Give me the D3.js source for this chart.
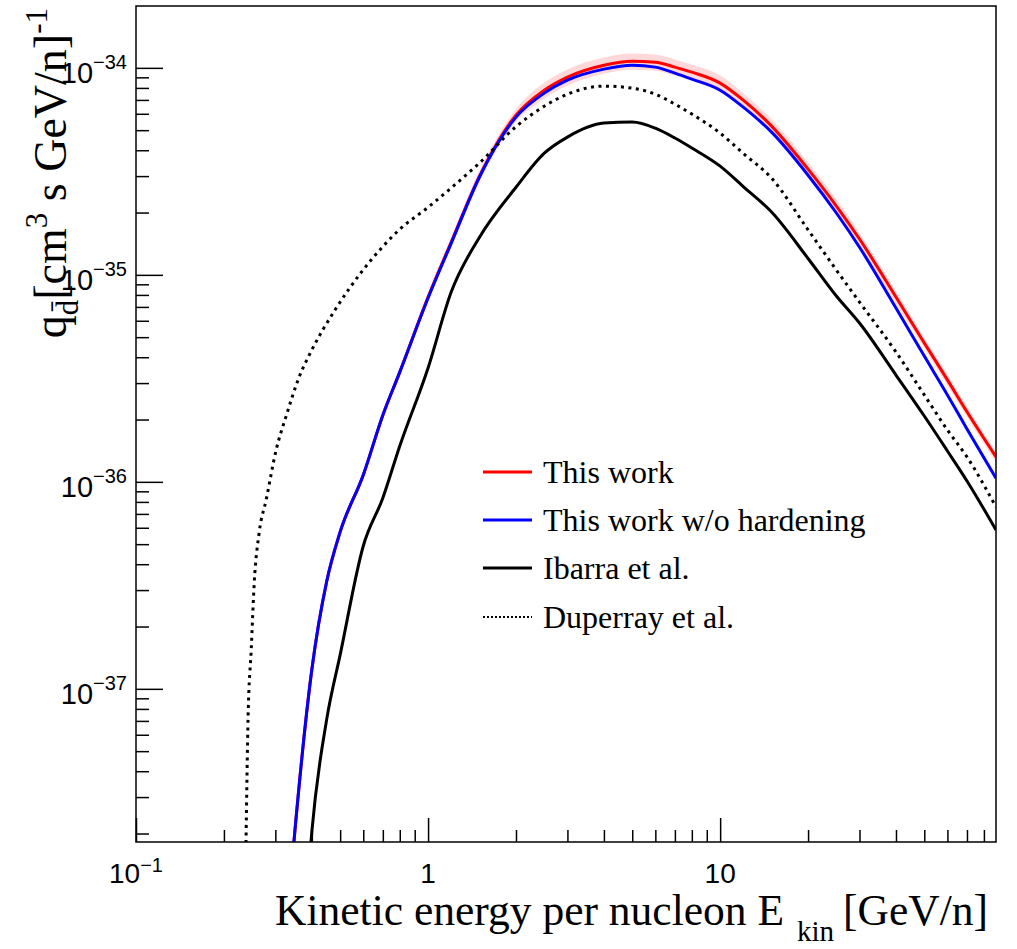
<!DOCTYPE html>
<html>
<head>
<meta charset="utf-8">
<style>
  body { margin: 0; background: #fff; }
  svg { display: block; }
  .tick-label { font-family: 'Liberation Sans', Arial, sans-serif; fill: #000; }
  .title { font-family: 'Liberation Serif', 'Times New Roman', serif; fill: #000; }
</style>
</head>
<body>
<svg width="1017" height="949"></svg>
<script src="https://d3js.org/d3.v7.min.js"></script>
<script>
//------------------------------ DATA ------------------------------//
// kinetic energy per nucleon [GeV/n] for the two "this work" curves
let energyMain = [0.347, 0.35, 0.4, 0.45, 0.5, 0.6, 0.7, 0.8, 1, 1.2, 1.5, 2, 2.5, 3, 4, 5, 6, 7, 8,
                  10, 12, 15, 20, 25, 30, 40, 50, 60, 70, 88];
let thisWork = [1.8e-38, 2.06e-38, 1.24e-37, 3.32e-37, 5.73e-37, 1.08e-36, 2.10e-36, 3.39e-36, 7.81e-36,
                1.44e-35, 3.00e-35, 5.91e-35, 7.80e-35, 9.02e-35, 1.03e-34, 1.077e-34, 1.065e-34, 1.008e-34,
                9.53e-35, 8.44e-35, 6.98e-35, 5.23e-35, 3.24e-35, 2.15e-35, 1.49e-35, 7.81e-36, 4.69e-36,
                3.11e-36, 2.18e-36, 1.32e-36];
// relative half width of the uncertainty band around "This work"
let thisWorkErr = [0.04, 0.04, 0.04, 0.04, 0.04, 0.04, 0.04, 0.04, 0.05, 0.05, 0.06, 0.07, 0.09, 0.09,
                   0.09, 0.09, 0.09, 0.09, 0.09, 0.09, 0.08, 0.08, 0.08, 0.08, 0.07, 0.07, 0.06, 0.06,
                   0.06, 0.06];
let noHardening = [1.8e-38, 2.06e-38, 1.24e-37, 3.32e-37, 5.73e-37, 1.08e-36, 2.10e-36, 3.39e-36, 7.73e-36,
                   1.42e-35, 2.97e-35, 5.78e-35, 7.55e-35, 8.72e-35, 9.86e-35, 1.03e-34, 1.008e-34, 9.43e-35,
                   8.82e-35, 7.80e-35, 6.46e-35, 4.89e-35, 3.03e-35, 1.99e-35, 1.36e-35, 6.91e-36, 4.05e-36,
                   2.63e-36, 1.80e-36, 1.04e-36];

let energyIbarra = [0.397, 0.4, 0.45, 0.5, 0.6, 0.7, 0.8, 1, 1.2, 1.5, 2, 2.5, 3, 4, 5, 6, 7, 8,
                    10, 12, 15, 20, 25, 30, 40, 50, 60, 70, 88];
let ibarra = [1.8e-38, 2.04e-38, 7.16e-38, 1.46e-37, 4.90e-37, 8.36e-37, 1.49e-36, 3.55e-36, 8.26e-36,
              1.52e-35, 2.65e-35, 3.87e-35, 4.63e-35, 5.41e-35, 5.47e-35, 5.11e-35, 4.58e-35, 4.10e-35,
              3.35e-35, 2.67e-35, 2.01e-35, 1.20e-35, 7.90e-36, 5.85e-36, 3.28e-36, 2.08e-36, 1.41e-36,
              1.01e-36, 5.86e-37];

let energyDuperray = [0.238, 0.242, 0.248, 0.254, 0.264, 0.279, 0.302, 0.326, 0.362, 0.40, 0.48, 0.594,
                      0.7, 0.8, 1, 1.2, 1.5, 2, 2.5, 3, 4, 5, 6, 7, 8, 10, 12, 15, 20, 25, 30, 40, 50,
                      60, 70, 88];
let duperray = [1.8e-38, 7.33e-38, 1.54e-37, 3.25e-37, 5.67e-37, 8.18e-37, 1.43e-36, 2.06e-36, 3.21e-36,
                4.34e-36, 6.76e-36, 1.04e-35, 1.37e-35, 1.66e-35, 2.12e-35, 2.63e-35, 3.47e-35, 5.20e-35,
                6.53e-35, 7.46e-35, 8.16e-35, 7.98e-35, 7.46e-35, 6.68e-35, 5.98e-35, 4.84e-35, 3.86e-35,
                2.93e-35, 1.65e-35, 1.055e-35, 7.39e-36, 4.24e-36, 2.63e-36, 1.78e-36, 1.32e-36, 7.56e-37];

let xMajor = [0.1, 1, 10];
let xMajorLabels = [["10", "\u22121"], ["1", ""], ["10", ""]];
let yMajor = [1e-37, 1e-36, 1e-35, 1e-34];
let yMajorLabels = [["10", "\u221237"], ["10", "\u221236"], ["10", "\u221235"], ["10", "\u221234"]];

let legendNames = ["This work", "This work w/o hardening", "Ibarra et al.", "Duperray et al."];

//------------------------------ SETUP ------------------------------//
let svg = d3.select("svg");
let frame = {left: 136, right: 996, top: 6, bottom: 842};

let x = d3.scaleLog()
    .domain([0.1, 88])
    .range([frame.left, frame.right]);

let y = d3.scaleLog()
    .domain([1.82e-38, 1.99e-34])
    .range([frame.bottom, frame.top]);

// minor ticks 2..9 per decade
let xMinor = [];
[0.1, 1, 10].forEach(function(d){
    for (let m = 2; m <= 9; m++) {
        let v = m * d;
        if (v < 88) xMinor.push(v);
    }
});
let yMinor = [];
[1e-38, 1e-37, 1e-36, 1e-35, 1e-34].forEach(function(d){
    for (let m = 2; m <= 9; m++) {
        let v = m * d;
        if (v > 1.82e-38 && v < 1.99e-34) yMinor.push(v);
    }
});

svg.append("defs").append("clipPath")
    .attr("id", "plot-clip")
    .append("rect")
    .attr("x", frame.left)
    .attr("y", frame.top)
    .attr("width", frame.right - frame.left)
    .attr("height", frame.bottom - frame.top);

//------------------------------ CURVES ------------------------------//
let plot = svg.append("g").attr("clip-path", "url(#plot-clip)");

let line = d3.line()
    .x(d => x(d[0]))
    .y(d => y(d[1]))
    .curve(d3.curveMonotoneX);

let band = d3.area()
    .x(d => x(d[0]))
    .y0(d => y(d[1] * (1 - d[2])))
    .y1(d => y(d[1] * (1 + d[2])))
    .curve(d3.curveMonotoneX);

let bandData = energyMain.map((e, i) => [e, thisWork[i], thisWorkErr[i]]);

plot.append("path")
    .attr("d", band(bandData))
    .attr("fill", "#ff8080")
    .attr("fill-opacity", 0.3);

let series = [
    {name: legendNames[0], e: energyMain, q: thisWork, color: "#ff0000", width: 3, dash: null},
    {name: legendNames[1], e: energyMain, q: noHardening, color: "#0000ff", width: 3, dash: null},
    {name: legendNames[2], e: energyIbarra, q: ibarra, color: "#000000", width: 3, dash: null},
    {name: legendNames[3], e: energyDuperray, q: duperray, color: "#000000", width: 3, dash: "3,4.5"}
];

series.forEach(function(s){
    plot.append("path")
        .attr("d", line(s.e.map((e, i) => [e, s.q[i]])))
        .attr("fill", "none")
        .attr("stroke", s.color)
        .attr("stroke-width", s.width)
        .attr("stroke-dasharray", s.dash);
});

//------------------------------ AXES ------------------------------//
function styleAxis(g) {
    g.select(".domain").remove();
    g.selectAll(".tick line").attr("stroke", "#000").attr("stroke-width", 1.5);
}

svg.append("g")
    .attr("transform", `translate(${frame.left},0)`)
    .call(d3.axisLeft(y).tickValues(yMajor).tickSize(-27).tickFormat(""))
    .call(styleAxis);
svg.append("g")
    .attr("transform", `translate(${frame.left},0)`)
    .call(d3.axisLeft(y).tickValues(yMinor).tickSize(-13).tickFormat(""))
    .call(styleAxis);
svg.append("g")
    .attr("transform", `translate(0,${frame.bottom})`)
    .call(d3.axisBottom(x).tickValues(xMajor).tickSize(-24).tickFormat(""))
    .call(styleAxis);
svg.append("g")
    .attr("transform", `translate(0,${frame.bottom})`)
    .call(d3.axisBottom(x).tickValues(xMinor).tickSize(-12).tickFormat(""))
    .call(styleAxis);

svg.append("rect")
    .attr("x", frame.left)
    .attr("y", frame.top)
    .attr("width", frame.right - frame.left)
    .attr("height", frame.bottom - frame.top)
    .attr("fill", "none")
    .attr("stroke", "#000")
    .attr("stroke-width", 1.5);

// tick labels with superscript exponents
yMajor.forEach(function(v, i){
    let t = svg.append("text")
        .attr("class", "tick-label")
        .attr("x", 127)
        .attr("y", y(v) + 15)
        .attr("text-anchor", "end")
        .attr("font-size", 29);
    t.append("tspan").text(yMajorLabels[i][0]);
    t.append("tspan").attr("dy", -14).attr("font-size", 20).text(yMajorLabels[i][1]);
});

xMajor.forEach(function(v, i){
    let t = svg.append("text")
        .attr("class", "tick-label")
        .attr("x", x(v))
        .attr("y", 883)
        .attr("text-anchor", "middle")
        .attr("font-size", 28);
    t.append("tspan").text(xMajorLabels[i][0]);
    if (xMajorLabels[i][1]) {
        t.append("tspan").attr("dy", -11).attr("font-size", 20).text(xMajorLabels[i][1]);
    }
});

//------------------------------ TITLES ------------------------------//
let xt = svg.append("text")
    .attr("class", "title")
    .attr("x", 988)
    .attr("y", 925)
    .attr("text-anchor", "end")
    .attr("font-size", 43.5);
xt.append("tspan").text("Kinetic energy per nucleon E");
xt.append("tspan").attr("dx", 13).attr("dy", 16).attr("font-size", 29).text("kin");
xt.append("tspan").attr("dx", 9).attr("dy", -16).text("[GeV/n]");

let yt = svg.append("text")
    .attr("class", "title")
    .attr("transform", "translate(66,8) rotate(-90)")
    .attr("text-anchor", "end")
    .attr("font-size", 46);
yt.append("tspan").text("q");
yt.append("tspan").attr("dy", 12).attr("font-size", 31).text("d\u0304");
yt.append("tspan").attr("dy", -12).text("[cm");
yt.append("tspan").attr("dy", -19).attr("font-size", 31).text("3");
yt.append("tspan").attr("dy", 19).text(" s GeV/n]");
yt.append("tspan").attr("dy", -19).attr("font-size", 31).text("-1");

//------------------------------ LEGEND ------------------------------//
let legendY = [472, 520, 568, 617];
let legend = svg.append("g");
series.forEach(function(s, i){
    legend.append("line")
        .attr("x1", 483).attr("x2", 532)
        .attr("y1", legendY[i]).attr("y2", legendY[i])
        .attr("stroke", s.color)
        .attr("stroke-width", s.dash ? 2 : 3)
        .attr("stroke-dasharray", s.dash ? "2,2" : null);
    legend.append("text")
        .attr("class", "title")
        .attr("x", 543)
        .attr("y", legendY[i] + 11)
        .attr("font-size", 32)
        .text(s.name);
});
</script>
</body>
</html>
